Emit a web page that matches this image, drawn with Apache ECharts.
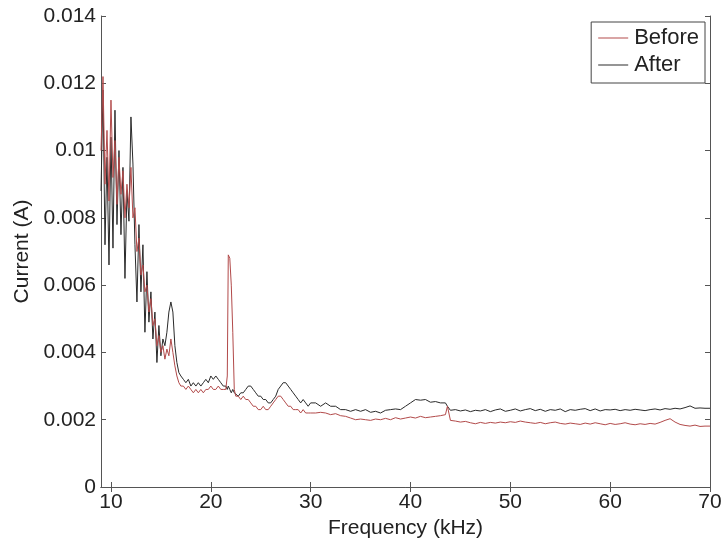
<!DOCTYPE html>
<html>
<head>
<meta charset="utf-8">
<script src="https://cdn.jsdelivr.net/npm/echarts@6/dist/echarts.min.js"></script>
<style>html,body{margin:0;padding:0;background:#fff}#c{width:724px;height:541px}</style>
</head>
<body>
<div id="c"></div>
<script>
const freq = [
9.0,9.2,9.4,9.6,9.8,10.0,10.2,10.4,10.6,10.8,11.0,11.2,11.4,11.6,11.8,12.0,12.2,12.4,12.6,12.8,
13.0,13.2,13.4,13.6,13.8,14.0,14.2,14.4,14.6,14.8,15.0,15.2,15.4,15.6,15.8,16.0,16.2,16.4,16.6,16.8,17.0,
17.25,17.5,17.75,18,18.25,18.5,18.75,19,19.25,19.5,19.75,20,20.25,20.5,20.75,21,21.25,21.5,
21.65,21.75,21.9,22.05,22.2,22.35,
22.5,22.75,23,23.25,23.5,23.75,24,24.25,24.5,24.75,25,25.25,25.5,25.75,26,26.25,26.5,26.75,27,27.25,27.5,27.75,28,28.25,28.5,28.75,29,29.25,29.5,29.75,30,
30.5,31,31.5,32,32.5,33,33.5,34,34.5,35,35.5,36,36.5,37,37.5,38,38.5,39,39.5,40,40.5,41,41.5,42,42.5,43,43.5,
43.7,
44,44.5,45,45.5,46,46.5,47,47.5,48,48.5,49,49.5,50,50.5,51,51.5,52,52.5,53,53.5,54,54.5,55,55.5,56,56.5,57,57.5,58,58.5,59,59.5,60,60.5,61,61.5,62,62.5,63,63.5,64,64.5,65,65.5,66,66.5,67,67.5,68,68.5,69,69.5,70
];
const before = [
0.0100,0.0122,0.0090,0.0106,0.0085,0.0115,0.0092,0.0103,0.0084,0.0098,0.0087,0.0094,0.0080,0.0090,0.0083,0.0095,0.0080,0.0083,0.0070,0.0074,
0.0063,0.0066,0.0058,0.0060,0.0052,0.0056,0.0048,0.0050,0.0042,0.0045,0.0040,0.0042,0.0038,0.0041,0.0039,0.0044,0.0040,0.0036,0.0033,0.0031,0.0030,
0.0030,0.0029,0.0030,0.0029,0.0028,0.0029,0.0028,0.0029,0.0028,0.0029,0.0029,0.0030,0.0029,0.0029,0.0030,0.0029,0.0029,0.0029,
0.0033,0.0069,0.0068,0.0060,0.0046,0.0029,
0.0027,0.0027,0.0026,0.0027,0.0026,0.0026,0.0025,0.0024,0.0024,0.0023,0.0023,0.0024,0.0023,0.0023,0.0024,0.0025,0.0026,0.0027,0.0027,0.0026,0.0025,0.0024,0.0024,0.0023,0.0023,0.0023,0.0022,0.0023,0.0022,0.0022,0.0022,
0.0022,0.00222,0.0022,0.00215,0.00218,0.00212,0.0021,0.00205,0.002,0.00202,0.002,0.00198,0.00202,0.002,0.00204,0.002,0.00206,0.00202,0.00205,0.00208,0.00205,0.0021,0.00206,0.00208,0.0021,0.00212,0.00215,
0.0024,
0.00198,0.00196,0.00193,0.00195,0.00191,0.00188,0.00192,0.00189,0.00192,0.0019,0.00193,0.00191,0.00194,0.00192,0.00196,0.00193,0.00191,0.00189,0.00192,0.00188,0.00191,0.00193,0.00189,0.00187,0.0019,0.00188,0.00186,0.0019,0.00187,0.00191,0.00188,0.00185,0.00189,0.00186,0.00188,0.00191,0.00187,0.00185,0.00188,0.00186,0.00189,0.00187,0.00192,0.00198,0.00203,0.00193,0.00186,0.00183,0.00181,0.00184,0.0018,0.00181,0.00181
];
const after = [
0.0088,0.0118,0.0072,0.0098,0.0066,0.0104,0.0071,0.0112,0.0078,0.0100,0.0075,0.0095,0.0062,0.0088,0.0079,0.0110,0.0096,0.0072,0.0055,0.0078,
0.0058,0.0072,0.0046,0.0064,0.0049,0.0058,0.0044,0.0052,0.0037,0.0048,0.0039,0.0044,0.0042,0.0046,0.0052,0.0055,0.0052,0.0042,0.0037,0.0034,0.0033,
0.0032,0.0031,0.0032,0.0030,0.0031,0.0030,0.0031,0.0030,0.0031,0.0032,0.0031,0.0033,0.0032,0.0033,0.0032,0.0031,0.0030,0.0030,
0.0029,0.0030,0.0029,0.0028,0.0029,0.0028,
0.0028,0.0027,0.0028,0.0028,0.0029,0.0030,0.0030,0.0029,0.0028,0.0027,0.0027,0.0026,0.0026,0.0025,0.0025,0.0026,0.0027,0.0029,0.0030,0.0031,0.0031,0.0030,0.0029,0.0028,0.0027,0.0026,0.0025,0.0026,0.0025,0.0024,0.0025,
0.0025,0.0024,0.0025,0.0024,0.0024,0.0023,0.0023,0.00225,0.0023,0.00225,0.0023,0.00222,0.00225,0.0022,0.00228,0.0023,0.00232,0.0023,0.0024,0.0025,0.0026,0.00258,0.0026,0.00252,0.00254,0.0025,0.0025,
0.0024,
0.00228,0.0023,0.00226,0.00229,0.00224,0.00228,0.00226,0.0023,0.00224,0.00229,0.00232,0.00225,0.00228,0.00232,0.00226,0.0023,0.00233,0.00227,0.00231,0.00225,0.0023,0.00228,0.00232,0.00224,0.0023,0.00228,0.00231,0.00233,0.00227,0.00232,0.00226,0.0023,0.00229,0.00231,0.00227,0.0023,0.00228,0.00231,0.00229,0.00227,0.0023,0.00232,0.00229,0.00233,0.00231,0.00234,0.00232,0.00236,0.00241,0.00234,0.00235,0.00234,0.00234
];
const xTicks = [10,20,30,40,50,60,70];
const seriesNames = ['Before','After'];

const chart = echarts.init(document.getElementById('c'));
const font = 'Liberation Sans, Arial, sans-serif';
const axisCol = '#555';
const txtCol = '#222';
const fs = 21;
chart.setOption({
  animation: false,
  backgroundColor: '#fff',
  grid: {left: 101, right: 14, top: 16, bottom: 54, containLabel: false, outerBoundsMode: 'none'},
  legend: {
    data: seriesNames,
    orient: 'vertical',
    right: 19, top: 22,
    icon: 'rect',
    itemWidth: 30, itemHeight: 1, itemGap: 5,
    borderColor: '#444', borderWidth: 1, borderRadius: 0,
    padding: [5, 6, 7, 7],
    textStyle: {fontFamily: font, fontSize: 22, color: txtCol, padding: [0,0,0,1]}
  },
  xAxis: [{
    type: 'value', min: 9, max: 70,
    name: 'Frequency (kHz)', nameLocation: 'middle', nameGap: 23,
    nameTextStyle: {fontFamily: font, fontSize: fs, color: txtCol},
    axisLine: {lineStyle: {color: axisCol, width: 1}},
    axisTick: {inside: true, length: 5, lineStyle: {color: axisCol}, customValues: xTicks},
    axisLabel: {fontFamily: font, fontSize: fs, color: txtCol, margin: 5, customValues: xTicks},
    splitLine: {show: false}
  },{
    type: 'value', min: 9, max: 70, position: 'top',
    axisLine: {lineStyle: {color: axisCol, width: 1}},
    axisTick: {inside: true, length: 5, lineStyle: {color: axisCol}, customValues: xTicks},
    axisLabel: {show: false},
    splitLine: {show: false}
  }],
  yAxis: [{
    type: 'value', min: 0, max: 0.014, interval: 0.002,
    name: 'Current (A)', nameLocation: 'middle', nameGap: 67, nameRotate: 90,
    nameTextStyle: {fontFamily: font, fontSize: fs, color: txtCol},
    axisLine: {show: true, lineStyle: {color: axisCol, width: 1}},
    axisTick: {show: true, inside: true, length: 5, lineStyle: {color: axisCol}},
    axisLabel: {fontFamily: font, fontSize: fs, color: txtCol, margin: 5,
      formatter: v => String(+v.toFixed(3))},
    splitLine: {show: false}
  },{
    type: 'value', min: 0, max: 0.014, interval: 0.002, position: 'right',
    axisLine: {show: true, lineStyle: {color: axisCol, width: 1}},
    axisTick: {show: true, inside: true, length: 5, lineStyle: {color: axisCol}},
    axisLabel: {show: false},
    splitLine: {show: false}
  }],
  series: [{
    name: 'After', type: 'line', symbol: 'none', z: 2,
    lineStyle: {color: '#2a2a2a', width: 1}, itemStyle: {color: '#2a2a2a'},
    data: freq.map((x, i) => [x, after[i]])
  },{
    name: 'Before', type: 'line', symbol: 'none', z: 3,
    lineStyle: {color: '#b24a4a', width: 1}, itemStyle: {color: '#b24a4a'},
    data: freq.map((x, i) => [x, before[i]])
  }]
});
</script>
</body>
</html>
